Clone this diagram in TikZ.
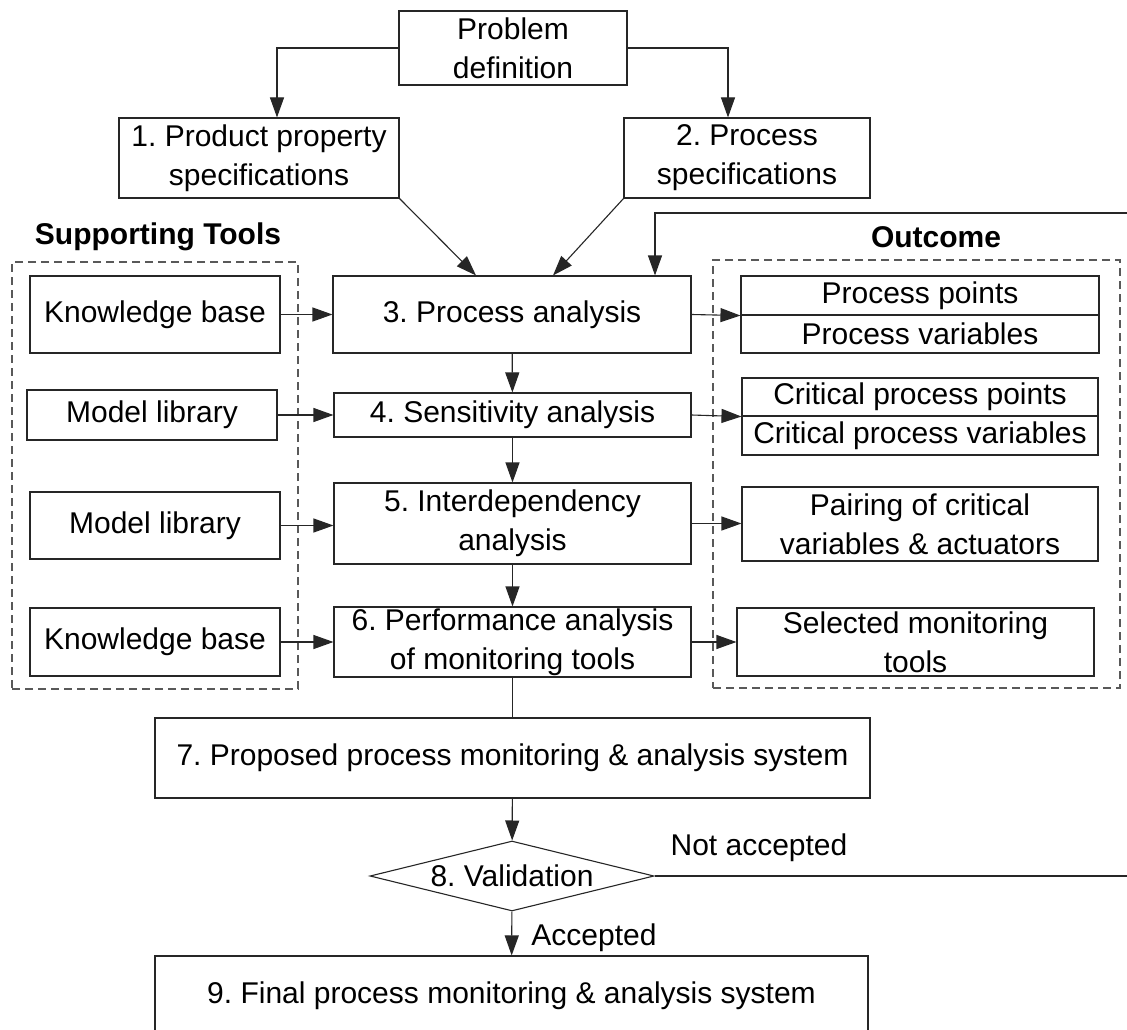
\documentclass[tikz,border=0pt]{standalone}
\usepackage{fontspec}
\setmainfont{Liberation Sans}
\usetikzlibrary{arrows.meta,shapes.geometric,calc}
\frenchspacing
\begin{document}
\begin{tikzpicture}[x=1pt,y=-1pt,
  every node/.style={font=\fontsize{30}{39}\selectfont, inner sep=0pt, align=center},
  box/.style={draw=black!85, line width=1.1pt, rectangle},
  dbox/.style={draw=black!65, line width=1.1pt, dash pattern=on 8pt off 5pt, rectangle},
  arr/.style={line width=1.1pt, draw=black!85, -{Triangle[length=20pt,width=14pt]}},
  ln/.style={line width=1.1pt, draw=black!85},
  ttl/.style={font=\fontsize{30}{36}\selectfont\bfseries}
]
\useasboundingbox[fill=white] (0,0) rectangle (1127,1030);

% dashed group frames
\node[dbox, minimum width=286, minimum height=427] (supframe) at (155,475.5) {};
\node[dbox, minimum width=407, minimum height=428] (outframe) at (916.5,474) {};
\node[ttl] (suptitle) at (158,237) {Supporting Tools};
\node[ttl] (outtitle) at (936,237) {Outcome};

% main column
\node[box, minimum width=228, minimum height=74] (pd) at (513,48) {Problem\\definition};
\node[box, minimum width=280, minimum height=80] (s1) at (259,158) {1. Product property\\specifications};
\node[box, minimum width=246, minimum height=80] (s2) at (747,158) {2. Process\\specifications};
\node[box, minimum width=358, minimum height=77] (p3) at (512,314.5) {3. Process analysis};
\node[box, minimum width=357, minimum height=44] (p4) at (512.5,415) {4. Sensitivity analysis};
\node[box, minimum width=357, minimum height=81] (p5) at (512.5,523.5) {5. Interdependency\\analysis};
\node[box, minimum width=357, minimum height=70] (p6) at (512.5,642) {6. Performance analysis\\of monitoring tools};
\node[box, minimum width=715, minimum height=80] (p7) at (512.5,758) {7. Proposed process monitoring \& analysis system};
\node[diamond, aspect=4.06, draw=black!85, line width=1.1pt, minimum width=284, minimum height=70] (val) at (512,876) {8. Validation};
\node[box, minimum width=713, minimum height=80] (p9) at (511.5,996) {9. Final process monitoring \& analysis system};

% supporting tools
\node[box, minimum width=250, minimum height=77] (kb1) at (155,314.5) {Knowledge base};
\node[box, minimum width=250, minimum height=50] (ml1) at (152,415) {Model library};
\node[box, minimum width=250, minimum height=67] (ml2) at (155,525.5) {Model library};
\node[box, minimum width=250, minimum height=68] (kb2) at (155,642) {Knowledge base};

% outcomes
\node[box, minimum width=358, minimum height=39] (po) at (920,295.5) {Process points};
\node[box, minimum width=358, minimum height=38] (pv) at (920,334) {Process variables};
\node[box, minimum width=356, minimum height=38] (cpp) at (920,397) {Critical process points};
\node[box, minimum width=356, minimum height=39] (cpv) at (920,435.5) {Critical process variables};
\node[box, minimum width=356, minimum height=74] (pair) at (920,524) {Pairing of critical\\variables \& actuators};
\node[box, minimum width=357, minimum height=68] (sel) at (915.5,642) {Selected monitoring\\tools};

% labels
\node (acc) at (594,938) {Accepted};
\node (nacc) at (759,848) {Not accepted};

% connectors
\draw[arr] (pd.west) -| ([xshift=18pt]s1.north);
\draw[arr] (pd.east) -| ([xshift=-19pt]s2.north);
\draw[arr] (s1.south east) -- ([xshift=-36pt]p3.north);
\draw[arr] (s2.south west) -- ([xshift=41pt]p3.north);
\draw[arr] (p3) -- (p4);
\draw[arr] (p4) -- (p5);
\draw[arr] (p5) -- (p6);
\draw[ln] (p6) -- (p7);
\draw[arr] (p7) -- (val);
\draw[arr] (val) -- (p9);

\draw[arr] (kb1) -- (p3);
\draw[arr] (ml1.east) -- (ml1.east -| p4.west);
\draw[arr] (ml2.east) -- (ml2.east -| p5.west);
\draw[arr] (kb2) -- (p6);

\draw[arr] (p3.east) -- (po.south west);
\draw[arr] (p4.east) -- (cpp.south west);
\draw[arr] (p5.east) -- (p5.east -| pair.west);
\draw[arr] (p6.east) -- (sel.west);

\coordinate (fbR) at (1150,876);
\coordinate (fbT) at (1150,213);
\draw[arr] (val.east) -- (fbR) -- (fbT) -| ([xshift=143pt]p3.north);
\end{tikzpicture}
\end{document}
